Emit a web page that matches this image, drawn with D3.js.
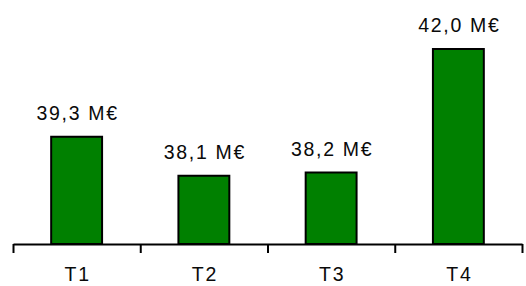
<!DOCTYPE html>
<html>
<head>
<meta charset="utf-8">
<script src="https://cdn.jsdelivr.net/npm/d3@7"></script>
<style>
  body { margin: 0; background: #fff; }
  svg text { font-family: "Liberation Sans", Arial, sans-serif; fill: #0a0a0a; letter-spacing: 1.7px; }
</style>
</head>
<body>
<svg width="526" height="286"></svg>
<script>
"use strict";

const quarters = ["T1", "T2", "T3", "T4"];
const revenue = [39.3, 38.1, 38.2, 42.0];
const revenueLabels = ["39,3 M€", "38,1 M€", "38,2 M€", "42,0 M€"];

window.addEventListener("load", drawBars);

function drawBars() {
    const svg = d3.select("svg");

    const left = 13, right = 522, baseY = 244;

    const x = d3.scaleBand()
        .domain(quarters)
        .range([left, right])
        .paddingInner(0.6)
        .paddingOuter(0.3);

    const y = d3.scaleLinear()
        .domain([36, 42])
        .range([baseY, 49]);

    const rows = quarters.map((q, i) => ({q: q, v: revenue[i], label: revenueLabels[i]}));

    svg.selectAll("rect.bar")
        .data(rows)
        .join("rect")
            .attr("class", "bar")
            .attr("x", d => x(d.q))
            .attr("y", d => y(d.v))
            .attr("width", x.bandwidth())
            .attr("height", d => baseY - y(d.v))
            .attr("fill", "#008000")
            .attr("stroke", "#000")
            .attr("stroke-width", 2);

    svg.selectAll("text.val")
        .data(rows)
        .join("text")
            .attr("class", "val")
            .attr("x", d => x(d.q) + x.bandwidth() / 2 + 1)
            .attr("y", d => y(d.v) - 17)
            .attr("text-anchor", "middle")
            .attr("font-size", 19.5)
            .text(d => d.label);

    // tick marks sit on the category boundaries
    const edges = d3.scaleLinear().domain([0, quarters.length]).range([left, right]);
    const tickAxis = svg.append("g")
        .attr("transform", `translate(0, ${baseY})`)
        .call(d3.axisBottom(edges)
            .tickValues(d3.range(quarters.length + 1))
            .tickSize(9)
            .tickSizeOuter(0)
            .tickFormat(""));
    tickAxis.selectAll("path, line").attr("stroke", "#000").attr("stroke-width", 2);

    const labelAxis = svg.append("g")
        .attr("transform", `translate(0, ${baseY})`)
        .call(d3.axisBottom(x).tickSize(0).tickPadding(23.5));
    labelAxis.select(".domain").remove();
    labelAxis.selectAll("text")
        .attr("font-size", 19.5)
        .attr("font-family", "\"Liberation Sans\", Arial, sans-serif")
        .attr("dx", "1")
        .attr("fill", "#0a0a0a");
}
</script>
</body>
</html>
